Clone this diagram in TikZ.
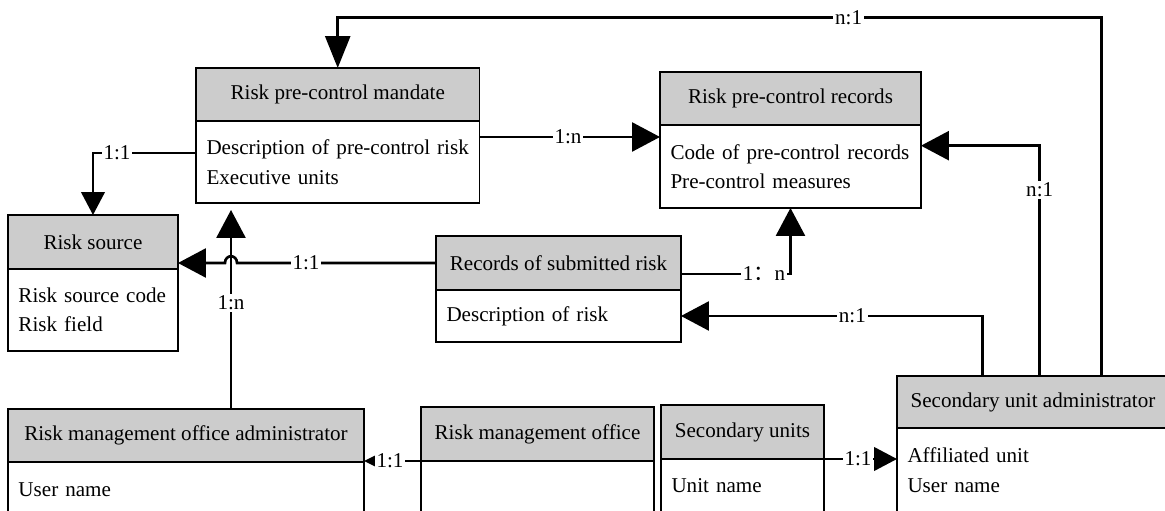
\documentclass[tikz,border=0pt]{standalone}
\usepackage{fontspec}
\setmainfont{Liberation Serif}
\newfontfamily\cjk{Noto Sans CJK SC}
\usetikzlibrary{arrows.meta}
\definecolor{hdrgray}{RGB}{204,204,204}
\tikzset{
 base/.style={draw=black, line width=0.8pt, outer sep=0pt, font=\fontsize{12}{16.8}\selectfont},
 hdr/.style={base, fill=hdrgray, anchor=north west, inner sep=0pt},
 body/.style={base, fill=white, anchor=north west, align=left, inner xsep=0.21cm, inner ysep=0pt},
 conn/.style={line width=1.5pt, draw=black},
 tipTop/.style={-{Triangle[length=0.64cm,width=0.5cm]}},
 tipL/.style={-{Triangle[length=0.56cm,width=0.58cm]}},
 tipM/.style={-{Triangle[length=0.46cm,width=0.47cm]}},
 tipS/.style={-{Triangle[length=0.22cm,width=0.2cm]}},
 lbl/.style={fill=white, inner sep=1pt, font=\fontsize{12}{14}\selectfont},
}
\begin{document}
\begin{tikzpicture}[x=0.02cm,y=-0.02cm]
\path[use as bounding box] (0,0) rectangle (1165,510);
\clip (0,0) rectangle (1165,510);
\fill[white] (0,0) rectangle (1165,510);

% Risk pre-control mandate
\node[hdr, minimum width=5.67cm, minimum height=1.06cm] (Mh) at (196,68) {Risk pre-control mandate};
\node[body, text width=5.25cm, minimum height=1.64cm] (Mb) at (Mh.south west) {Description of pre-control risk\\Executive units};
% Risk pre-control records
\node[hdr, minimum width=5.22cm, minimum height=1.06cm] (Rh) at (660,72) {Risk pre-control records};
\node[body, text width=4.8cm, minimum height=1.66cm] (Rb) at (Rh.south west) {Code of pre-control records\\Pre-control measures};
% Risk source
\node[hdr, minimum width=3.4cm, minimum height=1.08cm] (Sh) at (8,215) {Risk source};
\node[body, text width=2.98cm, minimum height=1.64cm] (Sb) at (Sh.south west) {Risk source code\\Risk field};
% Records of submitted risk
\node[hdr, minimum width=4.9cm, minimum height=1.08cm] (Bh) at (436,236) {Records of submitted risk};
\node[body, text width=4.48cm, minimum height=1.04cm] (Bb) at (Bh.south west) {Description of risk};
% Risk management office administrator
\node[hdr, minimum width=7.12cm, minimum height=1.06cm] (Ah) at (8,409) {Risk management office administrator};
\node[body, text width=6.7cm, minimum height=1.12cm] (Ab) at (Ah.south west) {User name};
% Risk management office
\node[hdr, minimum width=4.66cm, minimum height=1.08cm] (Oh) at (421,407) {Risk management office};
\node[body, text width=4.24cm, minimum height=1.14cm] (Ob) at (Oh.south west) {};
% Secondary units
\node[hdr, minimum width=3.26cm, minimum height=1.08cm] (Uh) at (661,405) {Secondary units};
\node[body, text width=2.84cm, minimum height=1.08cm] (Ub) at (Uh.south west) {Unit name};
% Secondary unit administrator
\node[hdr, minimum width=5.44cm, minimum height=1.04cm] (Dh) at (897,376) {Secondary unit administrator};
\node[body, text width=5.02cm, minimum height=1.68cm] (Db) at (Dh.south west) {Affiliated unit\\User name};

% helper coordinates on box edges
\path (Dh.north west) ++(204.6,0) coordinate (d1);
\path (Dh.north west) ++(142.7,0) coordinate (d2);
\path (Dh.north west) ++(85.2,0) coordinate (d3);
\path (Ah.north west) ++(223,0) coordinate (a1);
\coordinate (ytop) at (0,17.3);
\coordinate (m1) at ([yshift=0.5cm]Mb.east);
\coordinate (hop) at (a1 |- Bh.west);

% connectors
\draw[conn, tipTop] (d1) -- (d1 |- ytop) -| (Mh.north);
\draw[conn, tipL] (d2) |- ([yshift=0.416cm]Rb.east);
\draw[conn, tipL] (d3) |- (Bb.east);
\draw[conn, tipM] ([yshift=0.18cm]Mb.west) -| (Sh.north);
\draw[conn, tipL] (m1) -- (m1 -| Rb.west);
\draw[conn, tipL, shorten >=0.14cm] (a1) -- (a1 |- Mb.south);
\draw[conn, tipL] (Bh.west) -- ([xshift=0.12cm]hop)
  .. controls ([xshift=0.12cm,yshift=0.18cm]hop) and ([xshift=-0.12cm,yshift=0.18cm]hop) .. ([xshift=-0.12cm]hop)
  -- (Bh.west -| Sh.east);
\draw[conn, tipL] ([yshift=-0.22cm]Bh.east) -| (Rb.south);
\draw[conn, tipS] (Ob.north west) -- (Ob.north west -| Ab.north east);
\draw[conn, tipM] (Ub.north east) -- (Ub.north east -| Db.west);

% labels
\node[lbl] (l1) at (848.6,17.3) {n:1};
\node[lbl] (l2) at (117,153) {1:1};
\node[lbl] (l3) at (568,137) {1:n};
\node[lbl] (l4) at (1039.7,190) {n:1};
\node[lbl] (l5) at (231,303) {1:n};
\node[lbl] (l6) at (306,263) {1:1};
\node[lbl] (l7) at (764,274) {1{\cjk ：}n};
\node[lbl] (l8) at (852.4,316) {n:1};
\node[lbl] (l9) at (390,461) {1:1};
\node[lbl] (l10) at (858,459) {1:1};
\end{tikzpicture}
\end{document}
